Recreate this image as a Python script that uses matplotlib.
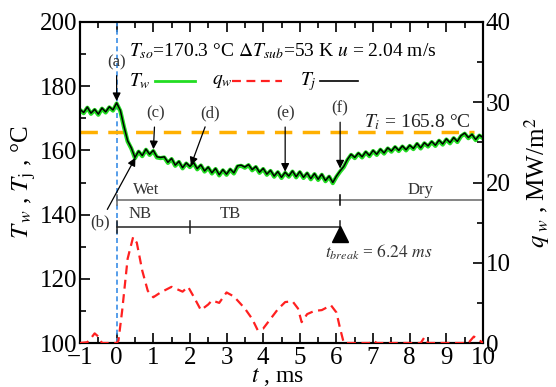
import numpy as np
import matplotlib.pyplot as plt
from matplotlib.ticker import MultipleLocator

plt.rcParams['font.family'] = ['Liberation Serif', 'DejaVu Serif']
plt.rcParams['mathtext.fontset'] = 'stix'

# wall / junction temperature, every 0.1 ms from -1 to 10 ms
t_T = np.round(np.arange(-1.0, 10.01, 0.1), 2)
T_j = [172.8, 171.8, 173.5, 171.6, 172.8, 171.3, 173.2, 172.0, 173.6, 172.6,
       174.8, 172.5, 167.5, 163.0, 160.8, 157.8, 159.8, 158.4, 160.4, 158.8,
       160.0, 158.0, 157.8, 158.0, 156.3, 157.5, 155.4, 156.6, 154.6, 156.1,
       155.0, 156.2, 154.3, 155.5, 153.6, 154.8, 153.0, 154.4, 152.4, 154.0,
       152.6, 154.2, 153.0, 155.2, 155.4, 154.8, 155.6, 154.0, 155.0, 153.2,
       154.4, 152.6, 153.8, 152.0, 153.4, 151.6, 153.2, 152.0, 153.6, 151.8,
       153.4, 151.6, 153.0, 151.2, 152.8, 151.0, 152.6, 150.6, 152.0, 150.0,
       152.0, 153.6, 155.0, 157.2, 158.8, 157.8, 159.2, 158.0, 159.6, 158.4,
       160.0, 158.8, 160.4, 159.2, 160.8, 159.8, 161.2, 160.0, 161.4, 160.2,
       161.6, 160.6, 162.2, 160.8, 162.4, 161.4, 162.8, 161.6, 163.2, 162.0,
       163.6, 162.4, 164.0, 162.8, 164.6, 165.4, 164.0, 165.0, 163.4, 164.8,
       164.0]
T_w = [v - 0.2 for v in T_j]

# heat flux, MW/m2
t_q = [-1.0, -0.8, -0.7, -0.6, -0.5, -0.4, -0.2, 0.0, 0.05, 0.15, 0.3, 0.45,
       0.55, 0.7, 0.85, 1.0, 1.2, 1.5, 1.7, 1.8, 1.95, 2.1, 2.3, 2.5, 2.6, 2.8,
       3.0, 3.2, 3.5, 3.7, 3.85, 4.0, 4.2, 4.4, 4.6, 4.8, 4.95, 5.05, 5.2, 5.4,
       5.6, 5.85, 6.0, 6.1, 6.2, 6.3, 6.9, 7.0, 7.1, 8.3, 8.4, 8.5, 9.6, 9.75,
       9.85, 10.0]
q_w = [0, 0.1, 0.6, 1.2, 0.8, 0, 0, 0, 0.3, 4.0, 10.5, 13.2,
       12.5, 9.0, 6.5, 5.7, 6.3, 7.0, 6.6, 6.4, 7.0, 5.8, 4.1, 4.8, 5.3, 5.0,
       6.3, 5.8, 4.3, 3.0, 1.6, 1.8, 3.0, 4.2, 5.1, 5.2, 4.3, 2.6, 3.6, 4.0,
       4.1, 4.7, 3.8, 1.8, 0, 0, 0, 0.3, 0, 0, 0.7, 0, 0, 0.8,
       0.5, 0]

T_i = 165.8
t_break = 6.24

fig = plt.figure(figsize=(5.56, 3.87), dpi=100)
ax = fig.add_axes([80/556, 1-343/387, 403/556, 321/387])
ax2 = ax.twinx()

ax.plot(t_T, T_w, color='#22dd22', lw=3, zorder=3)
ax.plot(t_T, T_j, color='black', lw=1.1, zorder=4)
ax2.plot(t_q, q_w, color='#ff2020', lw=1.6, ls=(0, (4, 2.5)), zorder=3)

ax.axvline(0, color='#3a8ee6', lw=1.2, ls=(0, (3, 2)), zorder=2)
ax.plot([-1, 9.75], [T_i, T_i], color='#ffb000', lw=2.5, ls=(0, (5, 3)), zorder=2)

ax.set_xlim(-1, 10)
ax.set_ylim(100, 200)
ax2.set_ylim(0, 40)
ax.xaxis.set_major_locator(MultipleLocator(1))
ax.xaxis.set_minor_locator(MultipleLocator(0.5))
ax.yaxis.set_major_locator(MultipleLocator(20))
ax.yaxis.set_minor_locator(MultipleLocator(10))
ax2.yaxis.set_major_locator(MultipleLocator(10))
ax2.yaxis.set_minor_locator(MultipleLocator(5))
ax.tick_params(which='both', direction='in', top=True, right=False, width=1.2)
ax.tick_params(which='major', length=7, labelsize=18)
ax.tick_params(axis='x', which='major', pad=3)
ax.tick_params(axis='y', which='major', pad=2)
ax.tick_params(which='minor', length=4)
ax2.tick_params(which='both', direction='in', width=1.2)
ax2.tick_params(which='major', length=7, labelsize=18, pad=2)
ax2.tick_params(which='minor', length=4)
for a in (ax, ax2):
    for s in a.spines.values():
        s.set_linewidth(1.5)

fig.text(278/556, 1 - 377/387, r'$t$ , ms', fontsize=17, ha='center', va='center')
ax.set_ylabel(r'$T_{\,w}$ , $T_{\rm j}$ , °C', fontsize=18, labelpad=1)
ax2.set_ylabel(r'$q_{\;w}$ , MW/m$^2$', fontsize=18, rotation=90, labelpad=8)

ax.text(0.35, 191, r'$T_{so}$=170.3 °C $\Delta T_{sub}$=53 K $u$ = 2.04 m/s',
        fontsize=14, va='center')
ax.text(0.35, 181.5, r'$T_w$', fontsize=14, va='center')
ax.plot([1.05, 2.15], [181.5, 181.5], color='#22dd22', lw=2)
ax.text(2.6, 181.5, r'$q_w$', fontsize=14, va='center')
ax.plot([3.15, 4.5], [181.5, 181.5], color='#ff2020', lw=1.6, ls=(0, (4, 2.5)))
ax.text(5.0, 181.5, r'$T_j$', fontsize=14, va='center')
ax.plot([5.55, 6.6], [181.5, 181.5], color='black', lw=1.2)
ax.text(8.2, 168.8, r'$T_i$ = 165.8 °C', fontsize=14, ha='center', va='center',
        color='#222222')

arrow = dict(arrowstyle='-|>', color='black', lw=0.9, mutation_scale=12)
ax.annotate('(a)', xy=(0.0, 174.5), xytext=(0.0, 187.5), fontsize=12,
            ha='center', va='center', arrowprops=arrow, color='#333333')
ax.annotate('(b)', xy=(0.55, 158.5), xytext=(-0.45, 137.5), fontsize=12,
            ha='center', va='center', arrowprops=arrow, color='#333333')
ax.annotate('(c)', xy=(1.0, 159.5), xytext=(1.05, 171.5), fontsize=12,
            ha='center', va='center', arrowprops=arrow, color='#333333')
ax.annotate('(d)', xy=(2.0, 154.5), xytext=(2.55, 171.5), fontsize=12,
            ha='center', va='center', arrowprops=arrow, color='#333333')
ax.annotate('(e)', xy=(4.6, 152.5), xytext=(4.6, 171.5), fontsize=12,
            ha='center', va='center', arrowprops=arrow, color='#333333')
ax.annotate('(f)', xy=(6.1, 153.5), xytext=(6.1, 173), fontsize=12,
            ha='center', va='center', arrowprops=arrow, color='#333333')

# regime bars
y_wet = 144.5
ax.plot([0, 10], [y_wet, y_wet], color='#666666', lw=1.1)
ax.plot([0, 0], [y_wet - 1.5, y_wet + 1.5], color='#666666', lw=1.1)
ax.plot([6.1, 6.1], [y_wet - 1.5, y_wet + 1.5], color='black', lw=1.1)
ax.text(0.8, 147.8, 'Wet', fontsize=12, ha='center', va='center', color='#333333')
ax.text(8.3, 147.8, 'Dry', fontsize=12, ha='center', va='center', color='#333333')

y_nb = 136.2
ax.plot([0, 6.1], [y_nb, y_nb], color='#222222', lw=1.1)
for xt in (0, 2, 6.1):
    ax.plot([xt, xt], [y_nb - 1.8, y_nb + 1.8], color='#222222', lw=1.1)
ax.text(0.65, 140.2, 'NB', fontsize=12, ha='center', va='center', color='#333333')
ax.text(3.1, 140.2, 'TB', fontsize=12, ha='center', va='center', color='#333333')
ax.plot([6.1], [134.0], marker='^', color='black', ms=11)
ax.text(7.15, 128.3, r'$t_{break}$ = $6.24$ $ms$', fontsize=12.5,
        ha='center', va='center', color='#333333')

fig.savefig('out.png', dpi=100)
